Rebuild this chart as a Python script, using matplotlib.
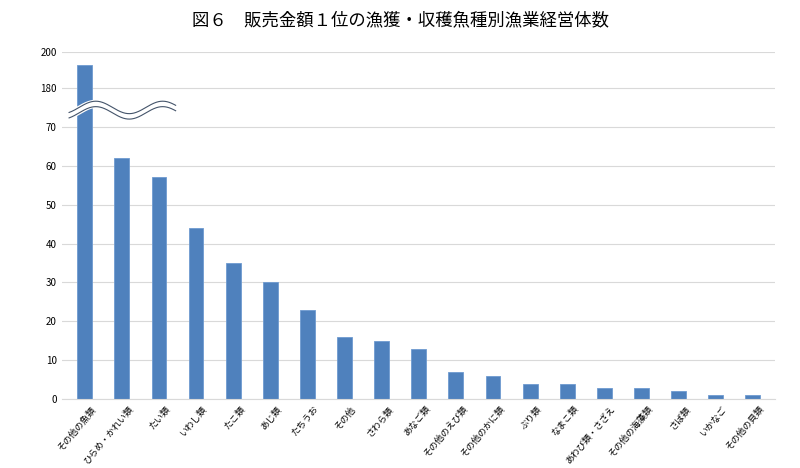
import numpy as np
import matplotlib.pyplot as plt
from matplotlib.transforms import ScaledTranslation

plt.rcParams['font.family'] = ['Noto Sans CJK JP', 'DejaVu Sans']

categories = ['その他の魚類', 'ひらめ・かれい類', 'たい類', 'いわし類', 'たこ類', 'あじ類', 'たちうお',
              'その他', 'さわら類', 'あなご類', 'その他のえび類', 'その他のかに類', 'ぶり類', 'なまこ類',
              'あわび類・さざえ', 'その他の海藻類', 'さば類', 'いかなご', 'その他の貝類']
counts = [193, 62, 57, 44, 35, 30, 23, 16, 15, 13, 7, 6, 4, 4, 3, 3, 2, 1, 1]
tick_values = [0, 10, 20, 30, 40, 50, 60, 70, 180, 200]


def squash(v):
    # broken axis: 0-70 linear, 180-200 compressed above a gap
    v = np.asarray(v, dtype=float)
    return np.where(v <= 70, v, 80 + (v - 180) * 0.463)


fig = plt.figure(figsize=(8, 4.68), dpi=100)
ax = fig.add_axes([0.078, 0.147, 0.891, 0.742])
x = np.arange(len(categories))
ax.bar(x, squash(counts), width=0.4, color='#4f81bd', edgecolor='#6f9bd0', linewidth=0.6, zorder=2)
ax.set_ylim(0, squash(200))
ax.set_xlim(-0.6, len(categories) - 0.4)
ax.set_yticks(squash(tick_values))
ax.set_yticklabels([str(t) for t in tick_values], fontsize=7)
ax.grid(axis='y', color='#d9d9d9', linewidth=0.8, zorder=0)
for s in ['top', 'right', 'left']:
    ax.spines[s].set_visible(False)
ax.spines['bottom'].set_color('#d9d9d9')
ax.tick_params(length=0, pad=4)
ax.set_xticks(x)
ax.set_xticklabels(categories, rotation=50, ha='right', rotation_mode='anchor', fontsize=6.5)
for lab in ax.get_xticklabels():
    lab.set_transform(lab.get_transform() + ScaledTranslation(0.06, 0, fig.dpi_scale_trans))

# wavy break mark
wx = np.linspace(-0.42, 2.45, 200)
wy = 74.3 + 1.6 * np.sin((wx + 0.15) * 2 * np.pi / 1.8)
ax.plot(wx, wy, color='white', linewidth=6, zorder=3, solid_capstyle='butt')
ax.plot(wx, wy + 0.7, color='#44546a', linewidth=0.8, zorder=4)
ax.plot(wx, wy - 0.7, color='#44546a', linewidth=0.8, zorder=4)

fig.text(0.5, 0.957, '図６　販売金額１位の漁獲・収穫魚種別漁業経営体数', ha='center', va='center', fontsize=12.5)
fig.savefig('out.png')
